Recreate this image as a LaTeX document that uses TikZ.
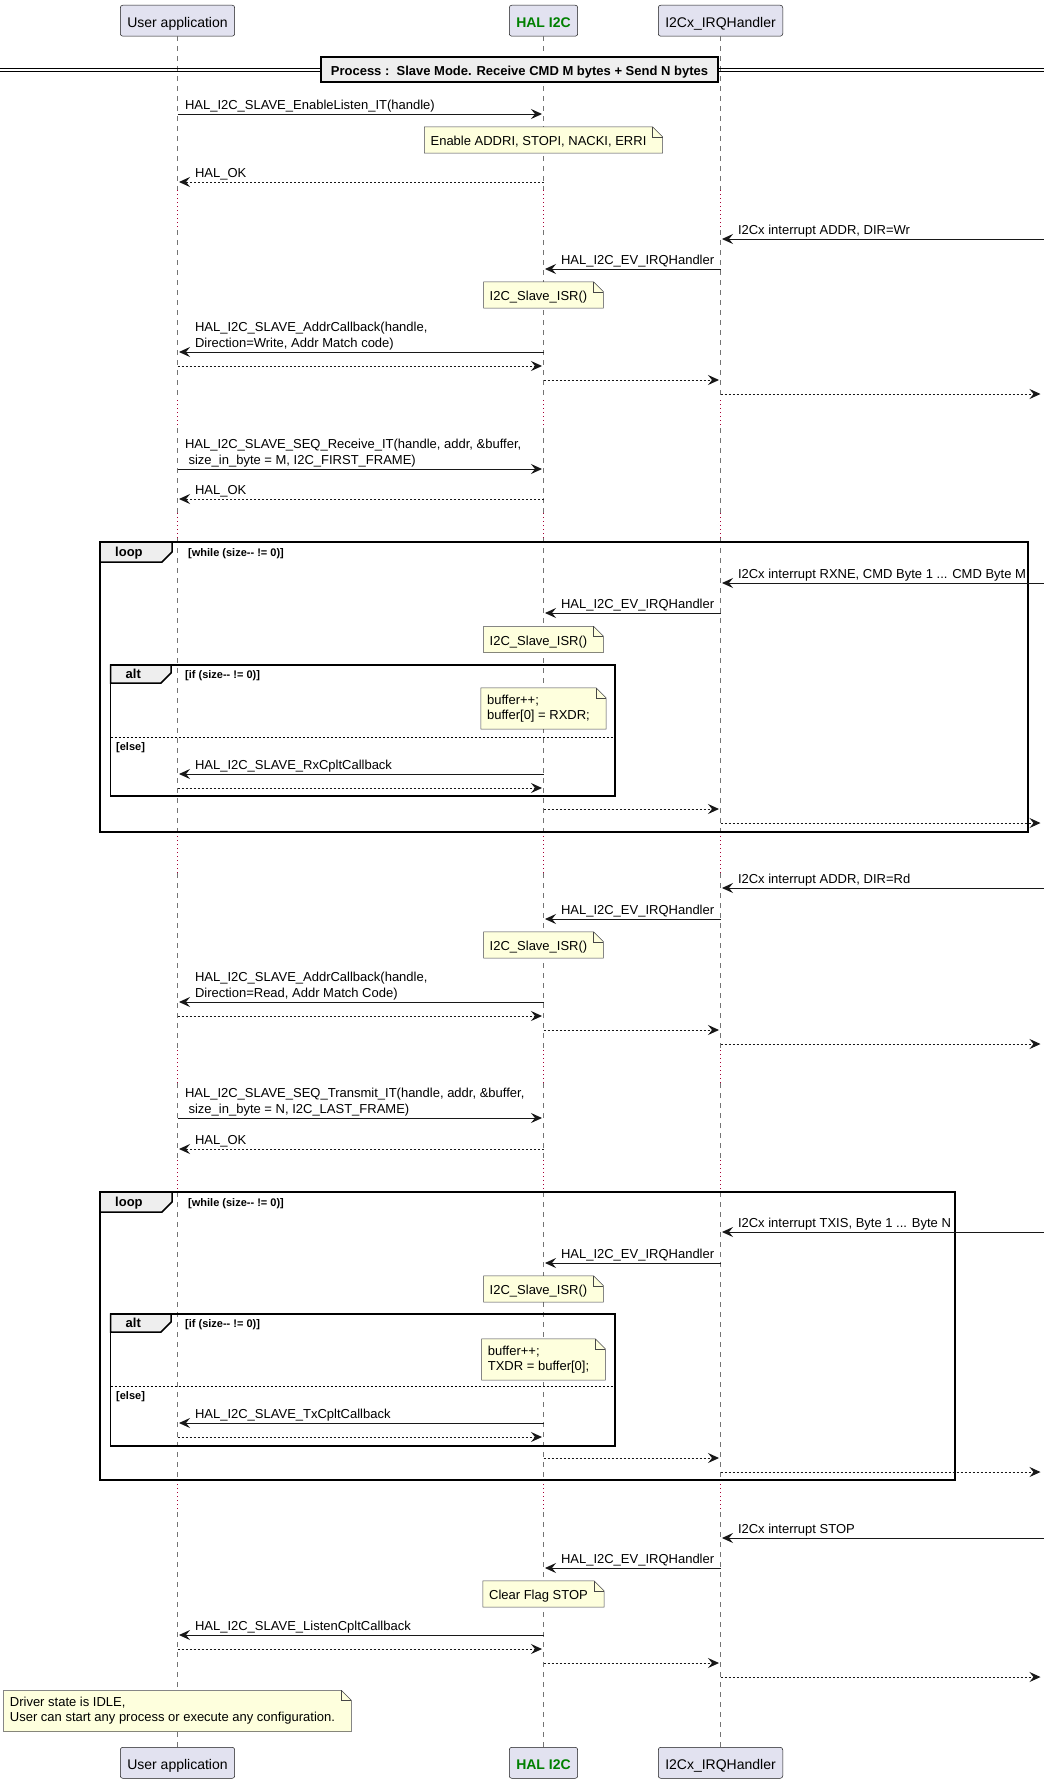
\documentclass[tikz,border=0pt]{standalone}
\usepackage{fontspec}
\setmainfont{Liberation Sans}
\usetikzlibrary{arrows.meta}

\definecolor{lineblk}{HTML}{181818}
\definecolor{partfill}{HTML}{E2E2F0}
\definecolor{notefill}{HTML}{FEFFDD}
\definecolor{tabfill}{HTML}{EEEEEE}
\definecolor{delayred}{HTML}{A80036}
\definecolor{halgreen}{HTML}{008000}

\tikzset{
  actor/.style={draw=lineblk, line width=0.5pt, fill=partfill, rounded corners=2.5pt,
    minimum height=31pt, inner xsep=7pt, inner ysep=0pt, text height=14pt, text depth=1pt,
    font=\fontsize{14}{16}\selectfont},
  lifeline/.style={draw=lineblk!60, line width=0.6pt, dash pattern=on 5pt off 5pt},
  delayline/.style={draw=delayred, line width=1pt, dash pattern=on 1pt off 3pt},
  call/.style={-{Stealth[length=11pt,width=10pt,inset=4pt]}, draw=lineblk, line width=1pt,
    shorten >=1.5pt},
  reply/.style={call, dash pattern=on 2pt off 2pt},
  msg/.style={anchor=base west, inner sep=0pt, font=\fontsize{13}{15}\selectfont},
  notebox/.style={fill=notefill, inner xsep=6pt, inner ysep=0pt, align=left,
    font=\fontsize{13}{15}\selectfont},
  oneline/.style={minimum height=26pt, text height=12pt, text depth=1pt},
  twoline/.style={minimum height=41pt},
  noteline/.style={draw=lineblk!80, line width=0.5pt},
  fragment/.style={draw=black, line width=1.5pt},
  fragtab/.style={fragment, fill=tabfill},
  tablabel/.style={anchor=base west, inner sep=0pt, font=\bfseries\fontsize{13}{15}\selectfont},
  guard/.style={anchor=base west, inner sep=0pt, font=\bfseries\fontsize{11}{13}\selectfont},
  elseline/.style={draw=black, line width=1pt, dash pattern=on 2pt off 2pt}
}

% folded corner round a note node
\newcommand{\dogear}[1]{%
  \fill[white] (#1.north east) -- ([xshift=-10pt]#1.north east) -- ([yshift=-10pt]#1.north east) -- cycle;
  \draw[noteline] (#1.north west) -- ([xshift=-10pt]#1.north east) -- ([yshift=-10pt]#1.north east)
    -- (#1.south east) -- (#1.south west) -- cycle;
  \draw[noteline] ([xshift=-10pt]#1.north east) |- ([yshift=-10pt]#1.north east);
}

\begin{document}
\begin{tikzpicture}[x=1pt,y=-1pt]

  \path[use as bounding box, fill=white] (0,0) rectangle (1044,1783);

%%%%%%%%%%%%%%%%%%%%%%%%%%%%%%%%%%%%%%%%%%
  % Participants, top and bottom
  \node[actor] (ua) at (177.5,20.7) {User application};
  \node[actor, text=halgreen, font=\bfseries\fontsize{14}{16}\selectfont] (hal) at (543.5,20.7) {HAL I2C};
  \node[actor] (irq) at (720.5,20.7) {I2Cx\_IRQHandler};

  \node[actor] (uab) at (177.5,1762.8) {User application};
  \node[actor, text=halgreen, font=\bfseries\fontsize{14}{16}\selectfont] (halb) at (543.5,1762.8) {HAL I2C};
  \node[actor] (irqb) at (720.5,1762.8) {I2Cx\_IRQHandler};

  % free ends at the right border
  \coordinate (rimin) at (1044,0);
  \coordinate (rimout) at (1042,0);

  % Lifelines, dotted where time is skipped
  \foreach \p in {ua,hal,irq}{
    \foreach \a/\b in {36/190,230/400,428/513,538/832,873/1050,1083/1160,1192/1480,1512/1747}
      \draw[lifeline] (\p |- 0,\a) -- (\p |- 0,\b);
    \foreach \a/\b in {190/230,400/428,513/538,832/873,1050/1083,1160/1192,1480/1512}
      \draw[delayline] (\p |- 0,\a) -- (\p |- 0,\b);
  }

  % Divider
  \draw[line width=1pt] (0,68.5) -- (1044,68.5) (0,71.5) -- (1044,71.5);
  \node[fragtab, inner xsep=10pt, inner ysep=0pt, minimum height=25pt, text height=13pt, text depth=1pt,
    font=\bfseries\fontsize{13}{15}\selectfont] (proc) at (519.5,69.5)
    {Process :\ \ Slave Mode. Receive CMD M bytes + Send N bytes};

  % Loop and alt fragments
  \foreach \t/\b/\r [count=\i] in {542/832/1028, 1192/1480/955}{
    \draw[fragment] (100,\t) rectangle (\r,\b);
    \draw[fragtab] (100,\t) -- (172,\t) -- (172,\t+10) -- (162,\t+20) -- (100,\t+20) -- cycle;
    \node[tablabel] (loop\i) at (115,\t+14.5) {loop};
    \node[guard] (while\i) at (188,\t+14) {[while (size-{}- != 0)]};
  }
  \foreach \t/\b/\e [count=\i] in {665/796/737, 1314/1446/1386}{
    \draw[fragment] (110.7,\t) rectangle (615,\b);
    \draw[fragtab] (110.7,\t) -- (171,\t) -- (171,\t+8) -- (161,\t+18) -- (110.7,\t+18) -- cycle;
    \node[tablabel] (alt\i) at (125.5,\t+13.5) {alt};
    \node[guard] (if\i) at (185,\t+13.5) {[if (size-{}- != 0)]};
    \draw[elseline] (110.7,\e) -- (615,\e);
    \node[guard] (else\i) at (116,\e+13) {[else]};
  }

  % Listen
  \draw[call] (ua |- 0,114) -- (hal |- 0,114)
    node[msg, pos=0, xshift=7pt, yshift=5pt] (m1) {HAL\_I2C\_SLAVE\_EnableListen\_IT(handle)};
  \node[notebox, oneline] (n1) at (hal |- 0,140) {Enable ADDRI, STOPI, NACKI, ERRI\hspace*{10pt}};
  \dogear{n1}
  \draw[reply] (hal |- 0,182) -- (ua |- 0,182)
    node[msg, pos=1, xshift=17pt, yshift=5pt] (m2) {HAL\_OK};

  % Address match, write
  \draw[call] (rimin |- 0,239) -- (irq |- 0,239)
    node[msg, pos=1, xshift=17pt, yshift=5pt] (m3) {I2Cx interrupt ADDR, DIR=Wr};
  \draw[call] (irq |- 0,269) -- (hal |- 0,269)
    node[msg, pos=1, xshift=17pt, yshift=5pt] (m4) {HAL\_I2C\_EV\_IRQHandler};
  \node[notebox, oneline] (n2) at (hal |- 0,295) {I2C\_Slave\_ISR()\hspace*{10pt}};
  \dogear{n2}
  \draw[call] (hal |- 0,352) -- (ua |- 0,352)
    node[msg, pos=1, xshift=17pt, yshift=21pt] (m5a) {HAL\_I2C\_SLAVE\_AddrCallback(handle,}
    node[msg, pos=1, xshift=17pt, yshift=5pt] (m5b) {Direction=Write, Addr Match code)};
  \draw[reply] (ua |- 0,366) -- (hal |- 0,366);
  \draw[reply] (hal |- 0,380) -- (irq |- 0,380);
  \draw[reply] (irq |- 0,394) -- (rimout |- 0,394);

  % Receive
  \draw[call] (ua |- 0,469) -- (hal |- 0,469)
    node[msg, pos=0, xshift=7pt, yshift=21pt] (m6a) {HAL\_I2C\_SLAVE\_SEQ\_Receive\_IT(handle, addr, \&buffer,}
    node[msg, pos=0, xshift=7pt, yshift=5pt] (m6b) {\hspace*{3.6pt}size\_in\_byte = M, I2C\_FIRST\_FRAME)};
  \draw[reply] (hal |- 0,499) -- (ua |- 0,499)
    node[msg, pos=1, xshift=17pt, yshift=5pt] (m7) {HAL\_OK};

  \draw[call] (rimin |- 0,583) -- (irq |- 0,583)
    node[msg, pos=1, xshift=17pt, yshift=5pt] (m8) {I2Cx interrupt RXNE, CMD Byte 1 ... CMD Byte M};
  \draw[call] (irq |- 0,613) -- (hal |- 0,613)
    node[msg, pos=1, xshift=17pt, yshift=5pt] (m9) {HAL\_I2C\_EV\_IRQHandler};
  \node[notebox, oneline] (n3) at (hal |- 0,639.5) {I2C\_Slave\_ISR()\hspace*{10pt}};
  \dogear{n3}
  \node[notebox, twoline] (n4) at (hal |- 0,708.5) {buffer++;\\buffer[0] = RXDR;\hspace*{10pt}};
  \dogear{n4}
  \draw[call] (hal |- 0,774) -- (ua |- 0,774)
    node[msg, pos=1, xshift=17pt, yshift=5pt] (m10) {HAL\_I2C\_SLAVE\_RxCpltCallback};
  \draw[reply] (ua |- 0,788) -- (hal |- 0,788);
  \draw[reply] (hal |- 0,809) -- (irq |- 0,809);
  \draw[reply] (irq |- 0,823) -- (rimout |- 0,823);

  % Address match, read
  \draw[call] (rimin |- 0,888) -- (irq |- 0,888)
    node[msg, pos=1, xshift=17pt, yshift=5pt] (m11) {I2Cx interrupt ADDR, DIR=Rd};
  \draw[call] (irq |- 0,919) -- (hal |- 0,919)
    node[msg, pos=1, xshift=17pt, yshift=5pt] (m12) {HAL\_I2C\_EV\_IRQHandler};
  \node[notebox, oneline] (n5) at (hal |- 0,945) {I2C\_Slave\_ISR()\hspace*{10pt}};
  \dogear{n5}
  \draw[call] (hal |- 0,1002) -- (ua |- 0,1002)
    node[msg, pos=1, xshift=17pt, yshift=21pt] (m13a) {HAL\_I2C\_SLAVE\_AddrCallback(handle,}
    node[msg, pos=1, xshift=17pt, yshift=5pt] (m13b) {Direction=Read, Addr Match Code)};
  \draw[reply] (ua |- 0,1016) -- (hal |- 0,1016);
  \draw[reply] (hal |- 0,1030) -- (irq |- 0,1030);
  \draw[reply] (irq |- 0,1044) -- (rimout |- 0,1044);

  % Transmit
  \draw[call] (ua |- 0,1118) -- (hal |- 0,1118)
    node[msg, pos=0, xshift=7pt, yshift=21pt] (m14a) {HAL\_I2C\_SLAVE\_SEQ\_Transmit\_IT(handle, addr, \&buffer,}
    node[msg, pos=0, xshift=7pt, yshift=5pt] (m14b) {\hspace*{3.6pt}size\_in\_byte = N, I2C\_LAST\_FRAME)};
  \draw[reply] (hal |- 0,1149) -- (ua |- 0,1149)
    node[msg, pos=1, xshift=17pt, yshift=5pt] (m15) {HAL\_OK};

  \draw[call] (rimin |- 0,1232) -- (irq |- 0,1232)
    node[msg, pos=1, xshift=17pt, yshift=5pt] (m16) {I2Cx interrupt TXIS, Byte 1 ... Byte N};
  \draw[call] (irq |- 0,1263) -- (hal |- 0,1263)
    node[msg, pos=1, xshift=17pt, yshift=5pt] (m17) {HAL\_I2C\_EV\_IRQHandler};
  \node[notebox, oneline] (n6) at (hal |- 0,1289) {I2C\_Slave\_ISR()\hspace*{10pt}};
  \dogear{n6}
  \node[notebox, twoline] (n7) at (hal |- 0,1359.5) {buffer++;\\TXDR = buffer[0];\hspace*{10pt}};
  \dogear{n7}
  \draw[call] (hal |- 0,1423) -- (ua |- 0,1423)
    node[msg, pos=1, xshift=17pt, yshift=5pt] (m18) {HAL\_I2C\_SLAVE\_TxCpltCallback};
  \draw[reply] (ua |- 0,1437) -- (hal |- 0,1437);
  \draw[reply] (hal |- 0,1458) -- (irq |- 0,1458);
  \draw[reply] (irq |- 0,1472) -- (rimout |- 0,1472);

  % Stop
  \draw[call] (rimin |- 0,1538) -- (irq |- 0,1538)
    node[msg, pos=1, xshift=17pt, yshift=5pt] (m19) {I2Cx interrupt STOP};
  \draw[call] (irq |- 0,1568) -- (hal |- 0,1568)
    node[msg, pos=1, xshift=17pt, yshift=5pt] (m20) {HAL\_I2C\_EV\_IRQHandler};
  \node[notebox, oneline] (n8) at (hal |- 0,1594) {Clear Flag STOP\hspace*{10pt}};
  \dogear{n8}
  \draw[call] (hal |- 0,1635) -- (ua |- 0,1635)
    node[msg, pos=1, xshift=17pt, yshift=5pt] (m21) {HAL\_I2C\_SLAVE\_ListenCpltCallback};
  \draw[reply] (ua |- 0,1649) -- (hal |- 0,1649);
  \draw[reply] (hal |- 0,1663) -- (irq |- 0,1663);
  \draw[reply] (irq |- 0,1677) -- (rimout |- 0,1677);

  \node[notebox, twoline] (n9) at (ua |- 0,1711)
    {Driver state is IDLE,\\User can start any process or execute any configuration.\hspace*{10pt}};
  \dogear{n9}

\end{tikzpicture}
\end{document}
